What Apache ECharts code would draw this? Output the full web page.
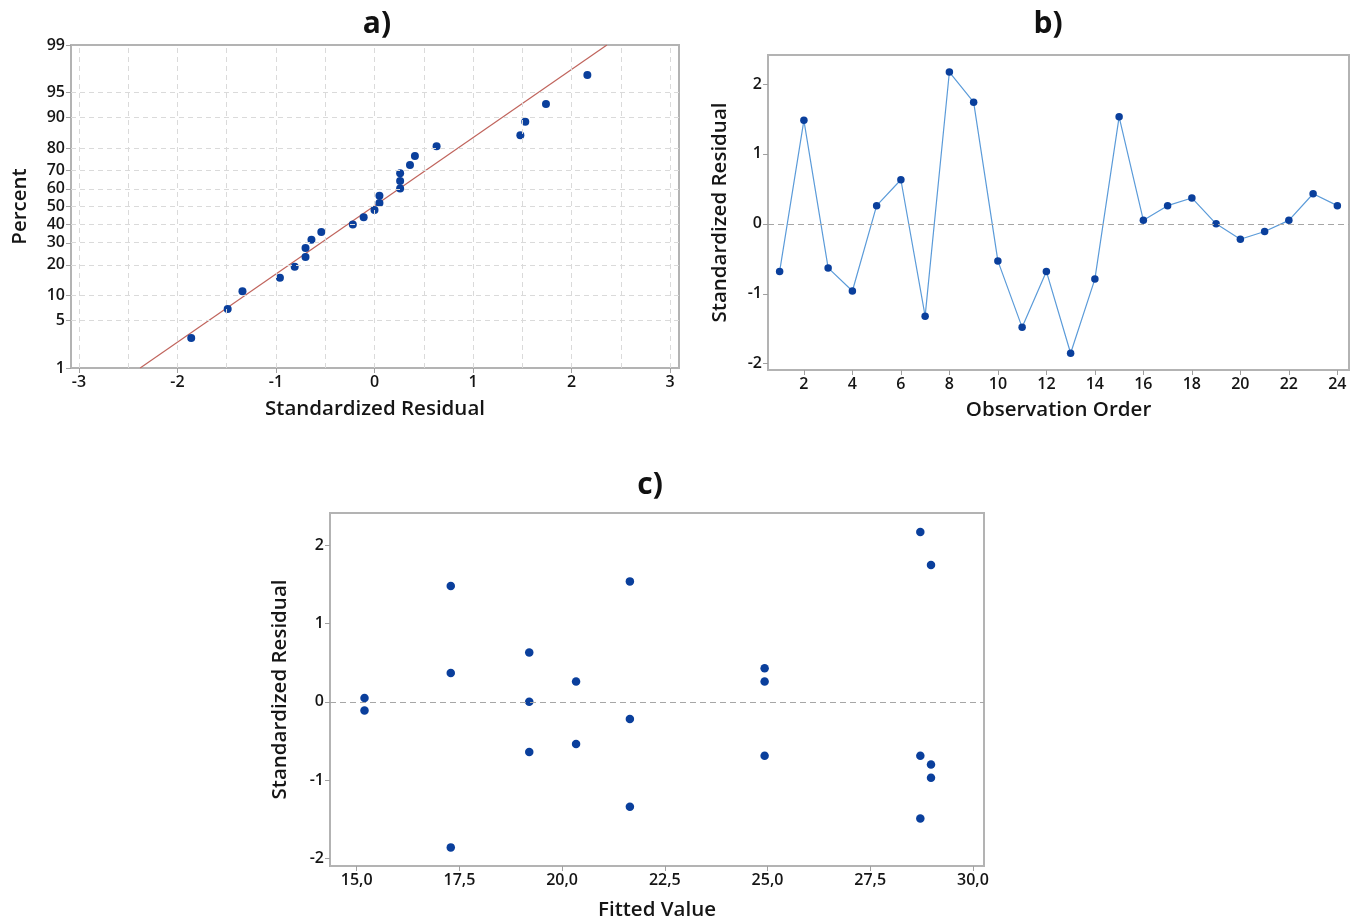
<!DOCTYPE html>
<html><head><meta charset="utf-8">
<script src="https://cdn.jsdelivr.net/npm/echarts@6/dist/echarts.min.js"></script>
<style>html,body{margin:0;padding:0;background:#fff}#c{width:1357px;height:922px}</style>
</head><body><div id="c"></div>
<script>
// ---- Panel a: normal probability plot ----
const probResid = [-1.86,-1.49,-1.34,-0.96,-0.81,-0.70,-0.70,-0.64,-0.54,-0.22,-0.11,0.00,0.05,0.05,0.26,0.26,0.26,0.36,0.41,0.63,1.48,1.53,1.74,2.16];
const probPercent = [2.9,7.0,11.1,15.2,19.3,23.4,27.5,31.6,35.7,39.8,43.9,48.0,52.0,56.1,60.2,64.3,68.4,72.5,76.6,80.7,84.8,88.9,93.0,97.1];
const fitMean = -0.01;
const fitSd = 1.018;
const pctTicks = [1,5,10,20,30,40,50,60,70,80,90,95,99];
const aXTicks = [-3,-2,-1,0,1,2,3];
const aXGrid = [-3,-2.5,-2,-1.5,-1,-0.5,0,0.5,1,1.5,2,2.5,3];
// ---- Panel b: versus order ----
const obsOrder = [1,2,3,4,5,6,7,8,9,10,11,12,13,14,15,16,17,18,19,20,21,22,23,24];
const obsResid = [-0.68,1.48,-0.63,-0.96,0.26,0.63,-1.32,2.17,1.74,-0.53,-1.48,-0.68,-1.85,-0.79,1.53,0.05,0.26,0.37,0.00,-0.22,-0.11,0.05,0.43,0.26];
const bXTicks = [2,4,6,8,10,12,14,16,18,20,22,24];
const residTicks = [-2,-1,0,1,2];
// ---- Panel c: versus fits ----
const fittedVals = [15.19,15.19,17.29,17.29,17.29,19.20,19.20,19.20,20.34,20.34,21.65,21.65,21.65,24.93,24.93,24.93,28.72,28.72,28.72,28.98,28.98,28.98];
const fittedResid = [0.05,-0.11,1.48,0.37,-1.86,0.63,0.00,-0.64,0.26,-0.54,1.54,-0.22,-1.34,0.43,0.26,-0.69,2.17,-0.69,-1.49,1.75,-0.80,-0.97];
const cXTicks = [15,17.5,20,22.5,25,27.5,30];

// inverse normal CDF (Acklam) used as the probability-axis transform
function probit(p){
  const a=[-3.969683028665376e+01,2.209460984245205e+02,-2.759285104469687e+02,1.383577518672690e+02,-3.066479806614716e+01,2.506628277459239e+00];
  const b=[-5.447609879822406e+01,1.615858368580409e+02,-1.556989798598866e+02,6.680131188771972e+01,-1.328068155288572e+01];
  const c=[-7.784894002430293e-03,-3.223964580411365e-01,-2.400758277161838e+00,-2.549732539343734e+00,4.374664141464968e+00,2.938163982698783e+00];
  const d=[7.784695709041462e-03,3.224671290700398e-01,2.445134137142996e+00,3.754408661907416e+00];
  const pl=0.02425, ph=1-pl; let q,r;
  if(p<pl){q=Math.sqrt(-2*Math.log(p));return (((((c[0]*q+c[1])*q+c[2])*q+c[3])*q+c[4])*q+c[5])/((((d[0]*q+d[1])*q+d[2])*q+d[3])*q+1);}
  if(p<=ph){q=p-0.5;r=q*q;return (((((a[0]*r+a[1])*r+a[2])*r+a[3])*r+a[4])*r+a[5])*q/(((((b[0]*r+b[1])*r+b[2])*r+b[3])*r+b[4])*r+1);}
  q=Math.sqrt(-2*Math.log(1-p));return -(((((c[0]*q+c[1])*q+c[2])*q+c[3])*q+c[4])*q+c[5])/((((d[0]*q+d[1])*q+d[2])*q+d[3])*q+1);
}
const zMin = probit(0.01), zMax = probit(0.99);
const pctZ = pctTicks.map(p=>probit(p/100));

const FONT = '"Open Sans", "Noto Sans", sans-serif';
const AXC = '#b3b3b3';
const DOT = '#0a3f9c';
const LBL = {color:'#151515',fontSize:16,fontWeight:600,fontFamily:FONT,margin:6};
function ax(extra){
  return Object.assign({
    type:'value',
    axisLine:{show:true,onZero:false,lineStyle:{color:AXC,width:2}},
    splitLine:{show:false},
    nameLocation:'middle',
    nameTextStyle:{color:'#151515',fontSize:20.5,fontWeight:600,fontFamily:FONT}
  }, extra);
}
function lbl(vals, fmt){ const o = Object.assign({customValues:vals}, LBL); if(fmt) o.formatter = fmt; return o; }
function tck(vals){ return {show:true,length:5,lineStyle:{color:'#a0a0a0',width:1},customValues:vals}; }
function grid(l,t,w,h){return {left:l,top:t,width:w,height:h,show:true,borderColor:AXC,borderWidth:2,backgroundColor:'#fff'};}

const chart = echarts.init(document.getElementById('c'));
chart.setOption({
  animation:false,
  backgroundColor:'#fff',
  grid:[grid(71,45,608,323), grid(768,55,581,315), grid(330,513,654,353)],
  xAxis:[
    ax({gridIndex:0,min:-3.08,max:3.09,name:'Standardized Residual',nameGap:31,
        axisLabel:lbl(aXTicks), axisTick:tck(aXTicks)}),
    ax({gridIndex:1,min:0.52,max:24.48,name:'Observation Order',nameGap:30,
        axisLabel:lbl(bXTicks), axisTick:tck(bXTicks)}),
    ax({gridIndex:2,min:14.35,max:30.27,name:'Fitted Value',nameGap:34,
        axisLabel:lbl(cXTicks, v=>v.toFixed(1).replace('.',',')), axisTick:tck(cXTicks)})
  ],
  yAxis:[
    ax({gridIndex:0,min:zMin,max:zMax,name:'Percent',nameGap:40,
        axisLabel:lbl(pctZ, v=>{let best=0,bd=1e9;pctZ.forEach((z,i)=>{const dd=Math.abs(z-v);if(dd<bd){bd=dd;best=i;}});return String(pctTicks[best]);}),
        axisTick:tck(pctZ)}),
    ax({gridIndex:1,min:-2.09,max:2.414,name:'Standardized Residual',nameGap:37,
        axisLabel:lbl(residTicks), axisTick:tck(residTicks)}),
    ax({gridIndex:2,min:-2.098,max:2.414,name:'Standardized Residual',nameGap:39,
        axisLabel:lbl(residTicks), axisTick:tck(residTicks)})
  ],
  graphic:[
    {type:'text',x:377,y:24,style:{text:'a)',font:'bold 30px '+FONT,fill:'#111',textAlign:'center',textVerticalAlign:'middle'}},
    {type:'text',x:1048,y:24,style:{text:'b)',font:'bold 30px '+FONT,fill:'#111',textAlign:'center',textVerticalAlign:'middle'}},
    {type:'text',x:650,y:485,style:{text:'c)',font:'bold 30px '+FONT,fill:'#111',textAlign:'center',textVerticalAlign:'middle'}}
  ],
  series:[
    {type:'line',xAxisIndex:0,yAxisIndex:0,data:[],silent:true,z:1,
     markLine:{silent:true,symbol:'none',animation:false,label:{show:false},
       lineStyle:{color:'#dadada',type:[5,4],width:1},
       data:[...aXGrid.map(v=>({xAxis:v})), ...pctZ.slice(1,-1).map(z=>({yAxis:z}))]}},
    {type:'line',xAxisIndex:0,yAxisIndex:0,z:2,symbol:'none',silent:true,
     lineStyle:{color:'#c0645c',width:1.2},
     data:[[fitMean+fitSd*zMin,zMin],[fitMean+fitSd*zMax,zMax]]},
    {type:'scatter',xAxisIndex:0,yAxisIndex:0,z:3,symbolSize:8,itemStyle:{color:DOT,opacity:1},
     data:probResid.map((x,i)=>[x,probit(probPercent[i]/100)])},
    {type:'line',xAxisIndex:1,yAxisIndex:1,z:3,symbol:'circle',symbolSize:7.5,
     lineStyle:{color:'#5b9bd9',width:1.2},itemStyle:{color:DOT,opacity:1},
     data:obsOrder.map((o,i)=>[o,obsResid[i]]),
     markLine:{silent:true,symbol:'none',animation:false,label:{show:false},
       lineStyle:{color:'#a6a6a6',type:[6,4],width:1},data:[{yAxis:0}]}},
    {type:'scatter',xAxisIndex:2,yAxisIndex:2,z:3,symbolSize:8.5,itemStyle:{color:DOT,opacity:1},
     data:fittedVals.map((f,i)=>[f,fittedResid[i]]),
     markLine:{silent:true,symbol:'none',animation:false,label:{show:false},
       lineStyle:{color:'#a6a6a6',type:[6,4],width:1},data:[{yAxis:0}]}}
  ]
});
</script></body></html>
